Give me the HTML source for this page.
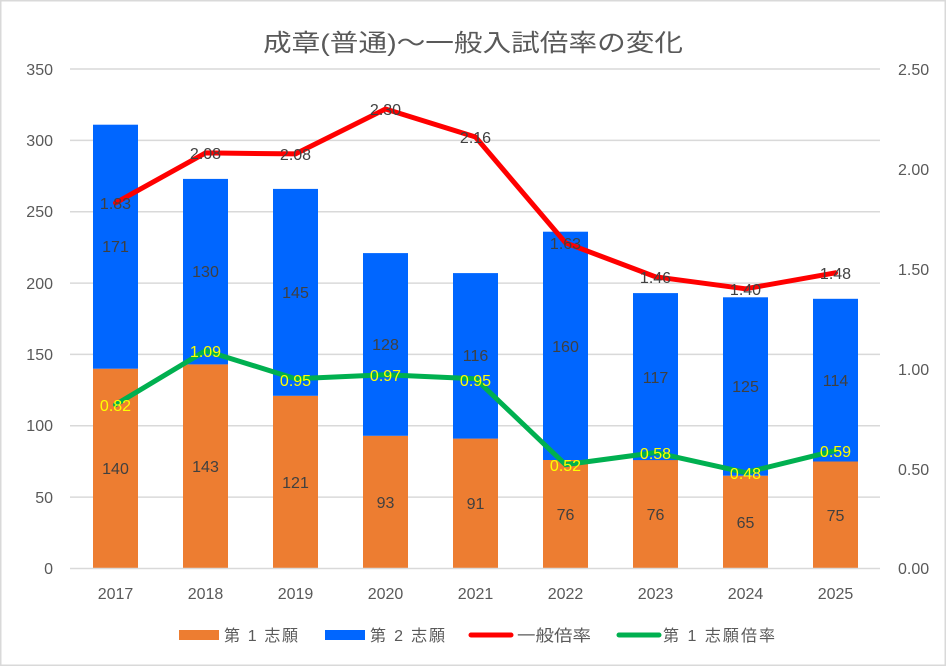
<!DOCTYPE html>
<html><head><meta charset="utf-8"><style>
html,body{margin:0;padding:0;background:#fff;}
svg{display:block;}
text{font-family:"Liberation Sans","Noto Sans CJK JP",sans-serif;}
</style></head><body>
<svg width="946" height="666" viewBox="0 0 946 666" xmlns="http://www.w3.org/2000/svg">
<rect x="0.5" y="0.5" width="945" height="665" fill="#fff" stroke="#d9d9d9" stroke-width="2"/>
<text x="473" y="51" text-anchor="middle" font-size="24" fill="#595959" textLength="420" lengthAdjust="spacingAndGlyphs">成章(普通)～一般入試倍率の変化</text>
<g stroke="#d9d9d9" stroke-width="1.5">
<line x1="70" x2="880" y1="69" y2="69"/>
<line x1="70" x2="880" y1="140.4" y2="140.4"/>
<line x1="70" x2="880" y1="211.7" y2="211.7"/>
<line x1="70" x2="880" y1="283.1" y2="283.1"/>
<line x1="70" x2="880" y1="354.4" y2="354.4"/>
<line x1="70" x2="880" y1="425.8" y2="425.8"/>
<line x1="70" x2="880" y1="497.1" y2="497.1"/>
</g>
<g font-size="16" fill="#595959" text-anchor="end">
<text x="53" y="75">350</text>
<text x="53" y="146">300</text>
<text x="53" y="217">250</text>
<text x="53" y="289">200</text>
<text x="53" y="360">150</text>
<text x="53" y="431">100</text>
<text x="53" y="503">50</text>
<text x="53" y="574">0</text>
</g>
<g font-size="16" fill="#595959" text-anchor="start">
<text x="898" y="75">2.50</text>
<text x="898" y="175">2.00</text>
<text x="898" y="275">1.50</text>
<text x="898" y="375">1.00</text>
<text x="898" y="475">0.50</text>
<text x="898" y="574">0.00</text>
</g>
<!-- bars -->
<g fill="#ED7D31">
<rect x="93" y="368.7" width="45" height="199.8"/>
<rect x="183" y="364.4" width="45" height="204.1"/>
<rect x="273" y="395.8" width="45" height="172.7"/>
<rect x="363" y="435.8" width="45" height="132.7"/>
<rect x="453" y="438.6" width="45" height="129.9"/>
<rect x="543" y="460.0" width="45" height="108.5"/>
<rect x="633" y="460.0" width="45" height="108.5"/>
<rect x="723" y="475.7" width="45" height="92.8"/>
<rect x="813" y="461.5" width="45" height="107.0"/>
</g>
<g fill="#0066FF">
<rect x="93" y="124.7" width="45" height="244.0"/>
<rect x="183" y="178.9" width="45" height="185.5"/>
<rect x="273" y="188.9" width="45" height="206.9"/>
<rect x="363" y="253.1" width="45" height="182.7"/>
<rect x="453" y="273.1" width="45" height="165.5"/>
<rect x="543" y="231.7" width="45" height="228.3"/>
<rect x="633" y="293.1" width="45" height="167.0"/>
<rect x="723" y="297.3" width="45" height="178.4"/>
<rect x="813" y="298.8" width="45" height="162.7"/>
</g>
<line x1="70" x2="880" y1="568.5" y2="568.5" stroke="#d9d9d9" stroke-width="1.5"/>
<!-- bar labels -->
<g font-size="16" fill="#404040" text-anchor="middle">
<text x="115.5" y="474">140</text>
<text x="205.5" y="472">143</text>
<text x="295.5" y="488">121</text>
<text x="385.5" y="508">93</text>
<text x="475.5" y="509">91</text>
<text x="565.5" y="520">76</text>
<text x="655.5" y="520">76</text>
<text x="745.5" y="528">65</text>
<text x="835.5" y="521">75</text>
<text x="115.5" y="252">171</text>
<text x="205.5" y="277">130</text>
<text x="295.5" y="298">145</text>
<text x="385.5" y="350">128</text>
<text x="475.5" y="361">116</text>
<text x="565.5" y="352">160</text>
<text x="655.5" y="383">117</text>
<text x="745.5" y="392">125</text>
<text x="835.5" y="386">114</text>
</g>
<!-- lines -->
<polyline fill="none" stroke="#FF0000" stroke-width="5" stroke-linejoin="round" stroke-linecap="round"
points="115.5,202.9 205.5,152.9 295.5,153.9 385.5,109 475.5,137 565.5,242.8 655.5,276.8 745.5,288.8 835.5,272.8"/>
<polyline fill="none" stroke="#00B050" stroke-width="5" stroke-linejoin="round" stroke-linecap="round"
points="115.5,404.7 205.5,350.7 295.5,378.7 385.5,374.7 475.5,378.7 565.5,464.6 655.5,452.6 745.5,472.6 835.5,450.6"/>
<g font-size="16" fill="#404040" text-anchor="middle">
<text x="115.5" y="209">1.83</text>
<text x="205.5" y="159">2.08</text>
<text x="295.5" y="160">2.08</text>
<text x="385.5" y="115">2.30</text>
<text x="475.5" y="143">2.16</text>
<text x="565.5" y="249">1.63</text>
<text x="655.5" y="283">1.46</text>
<text x="745.5" y="295">1.40</text>
<text x="835.5" y="279">1.48</text>
</g>
<g font-size="16" fill="#FFFF00" text-anchor="middle">
<text x="115.5" y="411">0.82</text>
<text x="205.5" y="357">1.09</text>
<text x="295.5" y="386">0.95</text>
<text x="385.5" y="381">0.97</text>
<text x="475.5" y="386">0.95</text>
<text x="565.5" y="471">0.52</text>
<text x="655.5" y="459">0.58</text>
<text x="745.5" y="479">0.48</text>
<text x="835.5" y="457">0.59</text>
</g>
<!-- x labels -->
<g font-size="16" fill="#595959" text-anchor="middle">
<text x="115.5" y="599">2017</text>
<text x="205.5" y="599">2018</text>
<text x="295.5" y="599">2019</text>
<text x="385.5" y="599">2020</text>
<text x="475.5" y="599">2021</text>
<text x="565.5" y="599">2022</text>
<text x="655.5" y="599">2023</text>
<text x="745.5" y="599">2024</text>
<text x="835.5" y="599">2025</text>
</g>
<!-- legend -->
<rect x="179" y="630" width="40" height="10" fill="#ED7D31"/>
<text x="224" y="641" font-size="16" fill="#595959" textLength="74" lengthAdjust="spacing">第 1 志願</text>
<rect x="325" y="630" width="40" height="10" fill="#0066FF"/>
<text x="370" y="641" font-size="16" fill="#595959" textLength="75" lengthAdjust="spacing">第 2 志願</text>
<line x1="471" x2="511" y1="635" y2="635" stroke="#FF0000" stroke-width="5" stroke-linecap="round"/>
<text x="517" y="641" font-size="16" fill="#595959" textLength="74" lengthAdjust="spacingAndGlyphs">一般倍率</text>
<line x1="619" x2="659" y1="635" y2="635" stroke="#00B050" stroke-width="5" stroke-linecap="round"/>
<text x="663" y="641" font-size="16" fill="#595959" textLength="112" lengthAdjust="spacing">第 1 志願倍率</text>
</svg>
</body></html>
